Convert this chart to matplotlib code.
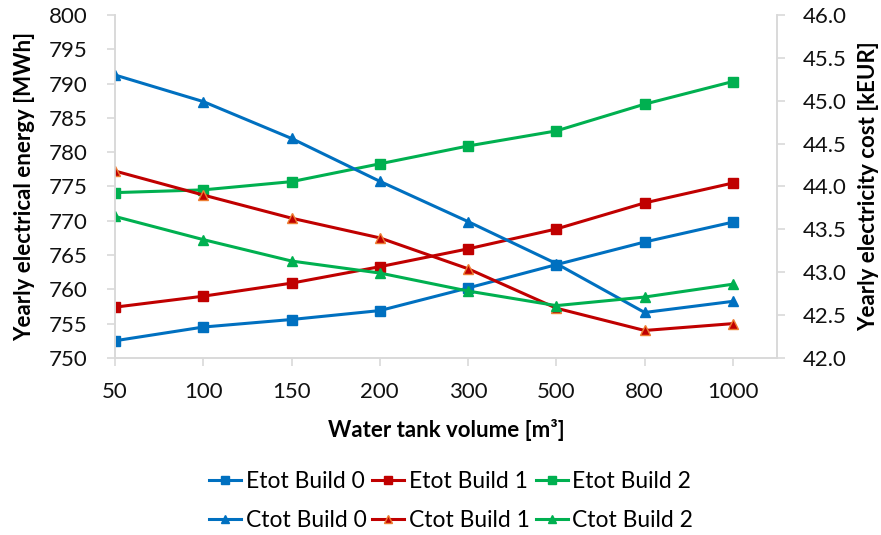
import matplotlib.pyplot as plt

volumes = ['50', '100', '150', '200', '300', '500', '800', '1000']

# yearly electrical energy [MWh]
etot_b0 = [752.5, 754.5, 755.6, 756.9, 760.2, 763.6, 766.9, 769.8]
etot_b1 = [757.4, 759.0, 760.9, 763.3, 765.9, 768.8, 772.6, 775.5]
etot_b2 = [774.1, 774.5, 775.7, 778.3, 780.9, 783.1, 787.0, 790.3]

# yearly electricity cost [kEUR]
ctot_b0 = [45.30, 44.99, 44.56, 44.06, 43.59, 43.10, 42.53, 42.66]
ctot_b1 = [44.18, 43.90, 43.63, 43.40, 43.04, 42.58, 42.32, 42.40]
ctot_b2 = [43.65, 43.38, 43.13, 42.99, 42.78, 42.61, 42.71, 42.86]

blue = '#0070C0'
red = '#C00000'
green = '#00B050'
grey = '#D9D9D9'

plt.rcParams['font.family'] = ['Lato', 'DejaVu Sans']

fig = plt.figure(figsize=(8.81, 5.35), dpi=100)
ax = fig.add_axes([0.1305, 0.331, 0.7515, 0.641])
ax2 = ax.twinx()

x = list(range(len(volumes)))
lw = 2.2

h_e0, = ax.plot(x, etot_b0, '-s', color=blue, lw=lw, ms=7.5, label='Etot Build 0')
h_e1, = ax.plot(x, etot_b1, '-s', color=red, lw=lw, ms=7.5, label='Etot Build 1')
h_e2, = ax.plot(x, etot_b2, '-s', color=green, lw=lw, ms=7.5, label='Etot Build 2')
h_c0, = ax2.plot(x, ctot_b0, '-^', color=blue, lw=lw, ms=7.5, label='Ctot Build 0')
h_c1, = ax2.plot(x, ctot_b1, '-^', color=red, mec='#ED7D31', mew=1, lw=lw, ms=7.5,
                 label='Ctot Build 1')
h_c2, = ax2.plot(x, ctot_b2, '-^', color=green, lw=lw, ms=7.5, label='Ctot Build 2')

ax.set_xlim(0, 7.5)
ax.set_ylim(750, 800)
ax.set_yticks(range(750, 801, 5))
ax2.set_ylim(42, 46)
ax2.set_yticks([42 + 0.5 * i for i in range(9)])
ax2.set_yticklabels(['%.1f' % (42 + 0.5 * i) for i in range(9)])
ax.set_xticks(x)
ax.set_xticklabels(volumes)

for a in (ax, ax2):
    for side in ('left', 'right', 'bottom'):
        a.spines[side].set_color(grey)
        a.spines[side].set_linewidth(1.2)
    a.spines['top'].set_visible(False)
    a.tick_params(colors=grey, labelcolor='#111111', labelsize=16, length=5.5, width=1.2)

ax.tick_params(axis='x', pad=12)
ax.tick_params(axis='y', pad=14)
ax2.tick_params(axis='y', pad=13)

ax.set_xlabel('Water tank volume [m³]', fontsize=16, fontweight='bold', labelpad=12)
ax.set_ylabel('Yearly electrical energy [MWh]', fontsize=16, fontweight='bold', labelpad=10)
ax2.set_ylabel('Yearly electricity cost [kEUR]', fontsize=16, fontweight='bold', labelpad=8)

handles = [h_e0, h_c0, h_e1, h_c1, h_e2, h_c2]
fig.legend(handles=handles, labels=[h.get_label() for h in handles],
           ncol=3, loc='center', bbox_to_anchor=(0.512, 0.0636), frameon=False,
           fontsize=16.5, handlelength=1.4, handletextpad=0.2, columnspacing=0.25,
           labelspacing=0.75, markerscale=0.75)

fig.savefig('out.png', dpi=100)
